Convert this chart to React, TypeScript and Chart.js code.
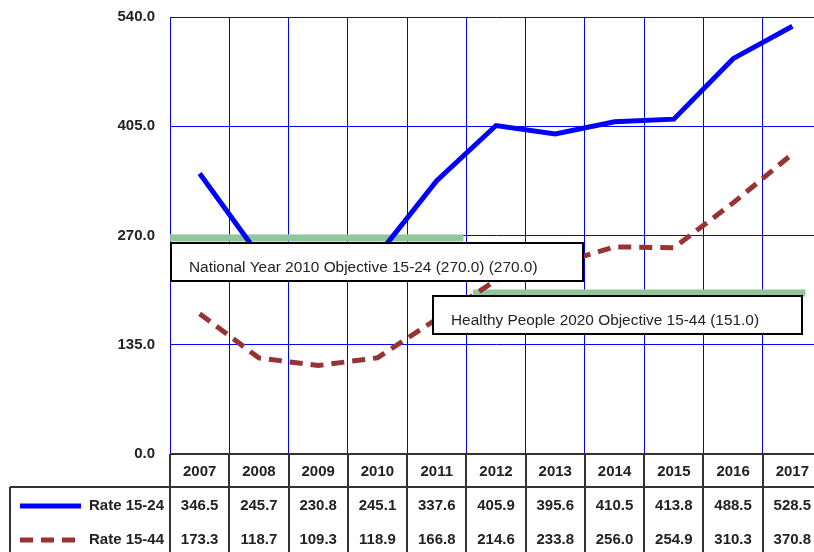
import { useEffect, useRef } from 'react';
import { Chart, registerables } from 'chart.js';

Chart.register(...registerables);

const years = ['2007', '2008', '2009', '2010', '2011', '2012', '2013', '2014', '2015', '2016', '2017'];
const rate1524 = [346.5, 245.7, 230.8, 245.1, 337.6, 405.9, 395.6, 410.5, 413.8, 488.5, 528.5];
const rate1544 = [173.3, 118.7, 109.3, 118.9, 166.8, 214.6, 233.8, 256.0, 254.9, 310.3, 370.8];
const yTicks = [0, 135, 270, 405, 540];
const seriesLabels = ['Rate 15-24', 'Rate 15-44'];
const objectiveLabels = [
  'National Year 2010 Objective 15-24 (270.0) (270.0)',
  'Healthy People 2020 Objective 15-44 (151.0)',
];
const objectiveLevels = [267, 199];

const FONT = "'Liberation Sans', Arial, sans-serif";
const BLUE = '#0000ff';
const RED = '#993333';
const GREEN = '#8fc79a';
const INK = '#222222';
const TABLE_LINE = '#333333';

// annotation geometry (in scale units: category index / y value)
const objectives = [
  { level: objectiveLevels[0], from: -0.5, to: 4.45, boxTop: 261, boxFrom: -0.49, boxTo: 6.46, text: objectiveLabels[0] },
  { level: objectiveLevels[1], from: 4.61, to: 10.22, boxTop: 195.5, boxFrom: 3.94, boxTo: 10.17, text: objectiveLabels[1] },
];

const overlay = {
  id: 'overlay',
  beforeDatasetsDraw(chart: any) {
    const { ctx, scales } = chart;
    const x = scales.x, y = scales.y;
    ctx.save();
    ctx.fillStyle = GREEN;
    for (const o of objectives) {
      const cy = y.getPixelForValue(o.level);
      const x0 = x.getPixelForValue(o.from);
      const x1 = x.getPixelForValue(o.to);
      ctx.fillRect(x0, cy - 3.5, x1 - x0, 7);
    }
    ctx.restore();
  },
  afterDatasetsDraw(chart: any) {
    const { ctx, scales } = chart;
    const x = scales.x, y = scales.y;
    ctx.save();
    for (const o of objectives) {
      const top = Math.round(y.getPixelForValue(o.boxTop));
      const x0 = Math.round(x.getPixelForValue(o.boxFrom));
      const x1 = Math.round(x.getPixelForValue(o.boxTo));
      const h = 38;
      ctx.fillStyle = '#ffffff';
      ctx.fillRect(x0, top, x1 - x0, h);
      ctx.strokeStyle = '#000000';
      ctx.lineWidth = 2;
      ctx.strokeRect(x0, top, x1 - x0, h);
      ctx.fillStyle = INK;
      ctx.font = `15.4px ${FONT}`;
      ctx.textAlign = 'left';
      ctx.textBaseline = 'middle';
      ctx.fillText(o.text, x0 + 18, top + 25);
    }
    ctx.restore();
  },
  afterDraw(chart: any) {
    const { ctx, scales, chartArea } = chart;
    const x = scales.x;
    const step = x.getPixelForValue(1) - x.getPixelForValue(0);
    const top = chartArea.bottom;
    const headBottom = top + 33;
    const rowH = 34;
    const bottom = headBottom + rowH * 2 + 10;
    const tableLeft = 10;
    const right = chartArea.right;
    ctx.save();
    ctx.strokeStyle = TABLE_LINE;
    ctx.lineWidth = 2;
    ctx.beginPath();
    ctx.moveTo(chartArea.left, top);
    ctx.lineTo(right, top);
    ctx.moveTo(tableLeft, headBottom);
    ctx.lineTo(right, headBottom);
    ctx.moveTo(tableLeft, headBottom);
    ctx.lineTo(tableLeft, bottom);
    for (let i = 0; i <= years.length; i++) {
      const bx = Math.round(x.getPixelForValue(i) - step / 2);
      ctx.moveTo(bx, top);
      ctx.lineTo(bx, bottom);
    }
    ctx.stroke();

    ctx.fillStyle = INK;
    ctx.font = `bold 15px ${FONT}`;
    ctx.textAlign = 'center';
    ctx.textBaseline = 'middle';
    const rows = [rate1524, rate1544];
    years.forEach((yr, i) => {
      const cx = x.getPixelForValue(i);
      ctx.fillText(yr, cx, top + 18);
      rows.forEach((r, j) => {
        ctx.fillText(r[i].toFixed(1), cx, headBottom + 19 + rowH * j);
      });
    });

    // legend keys
    const colors = [BLUE, RED];
    const dashes = [[], [13, 8]];
    rows.forEach((_, j) => {
      const cy = headBottom + 19 + rowH * j;
      ctx.strokeStyle = colors[j];
      ctx.lineWidth = 5;
      ctx.setLineDash(dashes[j]);
      ctx.beginPath();
      ctx.moveTo(20, cy);
      ctx.lineTo(81, cy);
      ctx.stroke();
      ctx.setLineDash([]);
      ctx.fillStyle = INK;
      ctx.textAlign = 'right';
      ctx.fillText(seriesLabels[j], 164, cy);
    });
    ctx.restore();
  },
};

export default function App() {
  const ref = useRef<HTMLCanvasElement | null>(null);
  useEffect(() => {
    if (!ref.current) return;
    const chart = new Chart(ref.current, {
      type: 'line',
      data: {
        labels: years,
        datasets: [
          {
            label: seriesLabels[0],
            data: rate1524,
            borderColor: BLUE,
            backgroundColor: BLUE,
            borderWidth: 5,
            pointRadius: 0,
            tension: 0,
            fill: false,
          },
          {
            label: seriesLabels[1],
            data: rate1544,
            borderColor: RED,
            backgroundColor: RED,
            borderWidth: 5,
            borderDash: [13, 8],
            pointRadius: 0,
            tension: 0,
            fill: false,
          },
        ],
      },
      options: {
        responsive: false,
        animation: false,
        layout: { padding: { top: 17, right: 8, bottom: 98, left: 0 } },
        plugins: { legend: { display: false }, tooltip: { enabled: false }, title: { display: false } },
        scales: {
          x: {
            type: 'category',
            offset: true,
            grid: { offset: true, color: BLUE, lineWidth: 1, drawTicks: false },
            border: { display: false },
            ticks: { display: false },
            afterFit: (s: any) => { s.height = 0; s.paddingLeft = 0; s.paddingRight = 0; },
          },
          y: {
            min: 0,
            max: 540,
            afterBuildTicks: (s: any) => { s.ticks = yTicks.map((v) => ({ value: v })); },
            grid: { color: BLUE, lineWidth: 1, drawTicks: false },
            border: { color: BLUE, width: 1 },
            ticks: {
              padding: 15,
              color: INK,
              font: { family: FONT, size: 15, weight: 'bold' },
              callback: (v: any) => Number(v).toFixed(1),
            },
            afterFit: (s: any) => { s.width = 170; s.paddingTop = 0; s.paddingBottom = 0; },
          },
        },
      },
      plugins: [overlay],
    });
    return () => chart.destroy();
  }, []);
  return (
    <div style={{ position: 'fixed', left: 0, top: 0, width: 814, height: 552, overflow: 'hidden', background: '#fff' }}>
      <canvas ref={ref} width={830} height={552} style={{ width: 830, height: 552, display: 'block' }} />
    </div>
  );
}
